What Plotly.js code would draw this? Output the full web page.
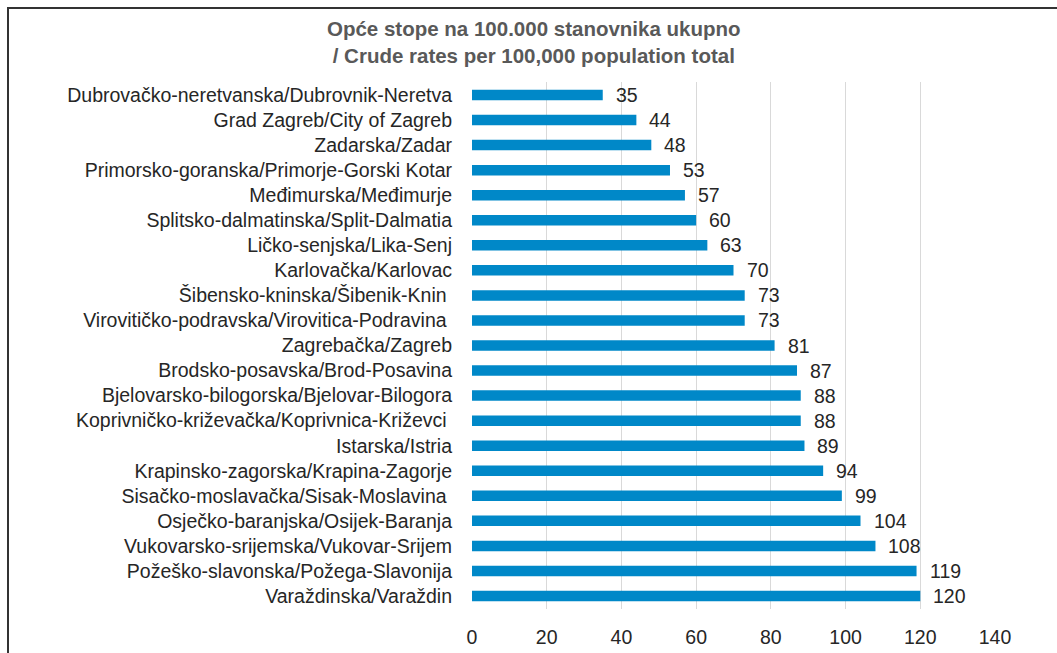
<!DOCTYPE html>
<html>
<head>
<meta charset="utf-8">
<script src="https://cdn.plot.ly/plotly-3.0.1.min.js"></script>
<style>
  html, body { margin: 0; padding: 0; background: #fff; }
  #wrap { position: relative; width: 1057px; height: 653px; }
  #chart { width: 1057px; height: 653px; }
  #frame { position: absolute; left: 7px; top: 7px; right: -5px; bottom: -5px;
           border-top: 2px solid #333; border-left: 2px solid #333; pointer-events: none; }
</style>
</head>
<body>
<div id="wrap">
  <div id="chart"></div>
  <div id="frame"></div>
</div>
<script>
const categories = [
  "Dubrovačko-neretvanska/Dubrovnik-Neretva",
  "Grad Zagreb/City of Zagreb",
  "Zadarska/Zadar",
  "Primorsko-goranska/Primorje-Gorski Kotar",
  "Međimurska/Međimurje",
  "Splitsko-dalmatinska/Split-Dalmatia",
  "Ličko-senjska/Lika-Senj",
  "Karlovačka/Karlovac",
  "Šibensko-kninska/Šibenik-Knin\u00a0",
  "Virovitičko-podravska/Virovitica-Podravina\u00a0",
  "Zagrebačka/Zagreb",
  "Brodsko-posavska/Brod-Posavina",
  "Bjelovarsko-bilogorska/Bjelovar-Bilogora",
  "Koprivničko-križevačka/Koprivnica-Križevci\u00a0",
  "Istarska/Istria",
  "Krapinsko-zagorska/Krapina-Zagorje",
  "Sisačko-moslavačka/Sisak-Moslavina\u00a0",
  "Osječko-baranjska/Osijek-Baranja",
  "Vukovarsko-srijemska/Vukovar-Srijem",
  "Požeško-slavonska/Požega-Slavonija",
  "Varaždinska/Varaždin"
];
const values = [35, 44, 48, 53, 57, 60, 63, 70, 73, 73, 81, 87, 88, 88, 89, 94, 99, 104, 108, 119, 120];
const xTicks = [0, 20, 40, 60, 80, 100, 120, 140];
const titleText = "Opće stope na 100.000 stanovnika ukupno<br>/ Crude rates per 100,000 population total";

const FONT = "Liberation Sans, Arial, sans-serif";
const TXT = "#262626";
const FS = 19.5;

const trace = {
  type: "bar",
  orientation: "h",
  y: categories,
  x: values,
  marker: { color: "#0088c8" },
  hoverinfo: "x+y"
};

const annotations = values.map((v, i) => ({
  x: v, y: categories[i], xref: "x", yref: "y",
  text: String(v), showarrow: false, xanchor: "left", xshift: 11,
  font: { family: FONT, size: FS, color: TXT }
}));

const layout = {
  width: 1057, height: 653,
  margin: { l: 472, r: 62, t: 82, b: 44, pad: 0 },
  paper_bgcolor: "#fff", plot_bgcolor: "#fff",
  bargap: 0.58,
  showlegend: false,
  title: {
    text: titleText,
    font: { family: FONT, size: 20.5, color: "#595959", weight: "bold" },
    x: 0.505, xanchor: "center",
    y: 0.945, yanchor: "top", yref: "container"
  },
  xaxis: {
    range: [0, 140],
    tickvals: xTicks,
    ticktext: xTicks.map(String),
    showgrid: true, gridcolor: "#d9d9d9", gridwidth: 1,
    zeroline: false, showline: false, ticks: "",
    ticklabelstandoff: 14,
    tickfont: { family: FONT, size: FS, color: TXT },
    fixedrange: true
  },
  yaxis: {
    type: "category",
    autorange: "reversed",
    showgrid: false, zeroline: false, showline: false, ticks: "",
    ticklabelstandoff: 19,
    tickfont: { family: FONT, size: FS, color: TXT },
    fixedrange: true
  },
  annotations: annotations
};

Plotly.newPlot("chart", [trace], layout, { displayModeBar: false, staticPlot: true });
</script>
</body>
</html>
